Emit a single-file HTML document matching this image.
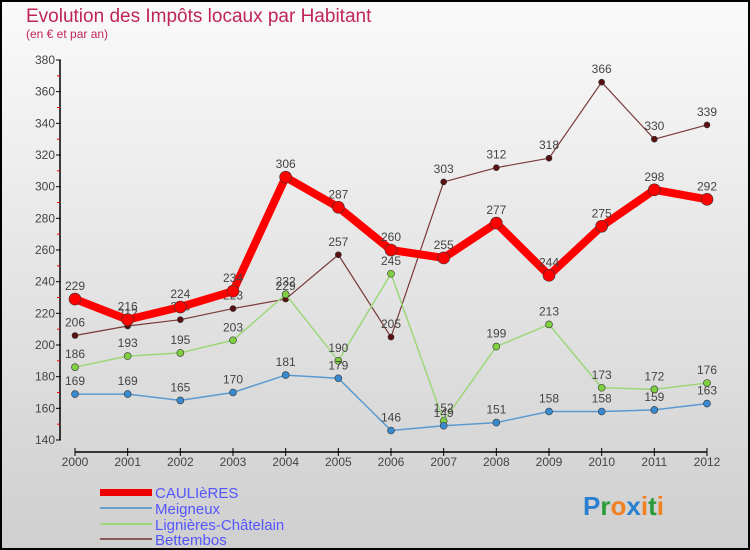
<!DOCTYPE html>
<html><head><meta charset="utf-8"><style>
body{margin:0}
#c{width:750px;height:550px;position:relative;box-sizing:border-box;border:2px solid #000;background:linear-gradient(#fafafa,#cfcfcf);font-family:"Liberation Sans",sans-serif;overflow:hidden}
</style></head><body>
<div id="c">
<svg width="746" height="546" viewBox="2 2 746 546" style="position:absolute;left:0;top:0" id="s">
<text x="26" y="22" font-size="19" fill="#c0245a">Evolution des Impôts locaux par Habitant</text>
<text x="26" y="38" font-size="12" fill="#c0245a">(en € et par an)</text>
<g id="axes"></g><g id="series"></g>
<g>
<rect x="100" y="489" width="52" height="7" fill="#e00"/>
<text x="155" y="498" font-size="15" fill="#55f">CAULIèRES</text>
<rect x="100" y="507" width="52" height="2" fill="#6a9fcf"/>
<text x="155" y="514" font-size="15" fill="#55f">Meigneux</text>
<rect x="100" y="523" width="52" height="2" fill="#9dd77a"/>
<text x="155" y="530" font-size="15" fill="#55f">Lignières-Châtelain</text>
<rect x="100" y="538" width="52" height="2" fill="#8a5a5a"/>
<text x="155" y="545" font-size="15" fill="#55f">Bettembos</text>
</g>
<text x="583" y="515" font-size="26" font-weight="bold"><tspan fill="#2a7fd0">P</tspan><tspan fill="#2a9a3a">r</tspan><tspan fill="#f08020">o</tspan><tspan fill="#2a7fd0">x</tspan><tspan fill="#f08020">i</tspan><tspan fill="#2a9a3a">t</tspan><tspan fill="#f08020">i</tspan></text>
</svg></div>
<script>
const years=[2000,2001,2002,2003,2004,2005,2006,2007,2008,2009,2010,2011,2012];
const caulieres=[229,216,224,234,306,287,260,255,277,244,275,298,292];
const meigneux=[169,169,165,170,181,179,146,149,151,158,158,159,163];
const lignieres=[186,193,195,203,232,190,245,152,199,213,173,172,176];
const bettembos=[206,212,216,223,229,257,205,303,312,318,366,330,339];
const yTicks=[140,160,180,200,220,240,260,280,300,320,340,360,380];
const NS="http://www.w3.org/2000/svg";
const X=i=>75+i*(707-75)/(years.length-1);
const Y=v=>440-(v-140)*(440-60)/240;
function mk(t,a,p){const e=document.createElementNS(NS,t);for(const k in a)e.setAttribute(k,a[k]);p.appendChild(e);return e;}
const ax=document.getElementById('axes');
const yl=mk('line',{x1:60,y1:Y(380),x2:60,y2:Y(140),stroke:'#000','stroke-width':1.5},ax);


yTicks.forEach((v,i)=>{
 mk('line',{x1:56,y1:Y(v),x2:61,y2:Y(v),stroke:'#000'},ax);
 if(i<yTicks.length-1)mk('line',{x1:57,y1:Y(v+10),x2:60,y2:Y(v+10),stroke:'#e00'},ax);
 const t=mk('text',{x:55,y:Y(v)+4,'font-size':12,fill:'#444','text-anchor':'end'},ax);t.textContent=v;
 
 
});
const xl=mk('line',{x1:X(0),y1:452,x2:X(12),y2:452,stroke:'#000','stroke-width':1.5},ax);


years.forEach((y,i)=>{
 mk('line',{x1:X(i),y1:448,x2:X(i),y2:456,stroke:'#000'},ax);
 const t=mk('text',{x:X(i),y:466,'font-size':12,fill:'#444','text-anchor':'middle'},ax);t.textContent=y;
 
 
});
const sg=document.getElementById('series');
function series(d,name,col,w,r,dot){
 const g=mk('g',{},sg);
 
 
 mk('polyline',{points:d.map((v,i)=>X(i)+','+Y(v)).join(' '),fill:'none',stroke:col,'stroke-width':w,'stroke-linejoin':'round'},g);
 d.forEach((v,i)=>{
  const c=mk('circle',{cx:X(i),cy:Y(v),r:r,fill:dot,stroke:'#333','stroke-width':0.6},g);
  
  
  const t=mk('text',{x:X(i),y:Y(v)-9,'font-size':12,fill:'#444','text-anchor':'middle'},g);t.textContent=v;
  
  
 });
}
series(bettembos,'bettembos','#7a3a3a',1.2,3,'#5a1010');
series(lignieres,'lignieres','#9dd77a',1.5,3.5,'#7fd040');
series(meigneux,'meigneux','#5a9ad0',1.5,3.5,'#3a8ad0');
series(caulieres,'caulieres','#f00',8,6,'#f00');
</script>
</body></html>
